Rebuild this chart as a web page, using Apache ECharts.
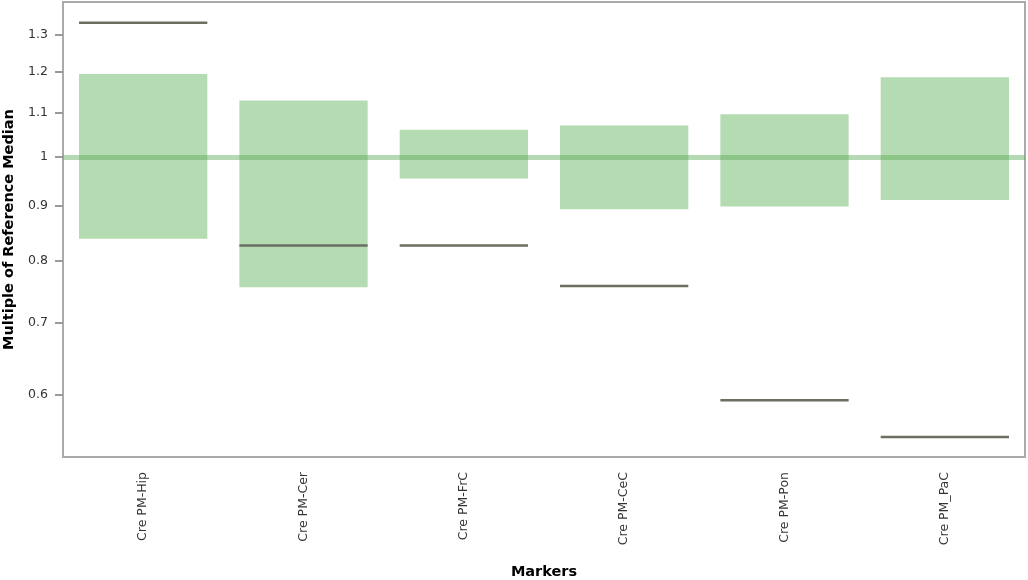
<!DOCTYPE html>
<html>
<head>
<meta charset="utf-8">
<script src="https://cdn.jsdelivr.net/npm/echarts@6/dist/echarts.min.js"></script>
<style>
  html, body { margin: 0; padding: 0; background: #fff; }
  #chart { width: 1028px; height: 580px; }
</style>
</head>
<body>
<div id="chart"></div>
<script>
// markers on the x axis
const markers = ['Cre PM-Hip', 'Cre PM-Cer', 'Cre PM-FrC', 'Cre PM-CeC', 'Cre PM-Pon', 'Cre PM_PaC'];
// reference range (green boxes), as multiples of the reference median
const rangeLow = [0.839, 0.756, 0.955, 0.894, 0.899, 0.912];
const rangeHigh = [1.195, 1.129, 1.060, 1.070, 1.096, 1.187];
// observed value (dark line) for each marker
const observed = [1.334, 0.827, 0.827, 0.758, 0.593, 0.548];
// y ticks on the log axis
const yTicks = [0.6, 0.7, 0.8, 0.9, 1, 1.1, 1.2, 1.3];
const yMin = 0.525;
const yMax = 1.395;

const chart = echarts.init(document.getElementById('chart'));

const rangeData = markers.map((m, i) => [i, rangeLow[i], rangeHigh[i]]);
const obsData = markers.map((m, i) => [i, observed[i]]);

// box drawn from low to high inside the category band
const renderRange = (params, api) => {
  const i = api.value(0);
  const lo = api.coord([i, api.value(1)]);
  const hi = api.coord([i, api.value(2)]);
  const w = api.size([1, 1])[0] * 0.8;
  return {
    type: 'rect',
    shape: { x: lo[0] - w / 2, y: hi[1], width: w, height: lo[1] - hi[1] },
    style: { fill: 'rgba(120, 190, 115, 0.55)' }
  };
};

// short horizontal line across the band
const renderObs = (params, api) => {
  const i = api.value(0);
  const p = api.coord([i, api.value(1)]);
  const w = api.size([1, 1])[0] * 0.8;
  return {
    type: 'line',
    shape: { x1: p[0] - w / 2, y1: p[1], x2: p[0] + w / 2, y2: p[1] },
    style: { stroke: '#6b6e60', lineWidth: 2.5 }
  };
};

const fontFamily = '"DejaVu Sans", Verdana, sans-serif';

const option = {
  animation: false,
  textStyle: { fontFamily: fontFamily },
  grid: {
    left: 63,
    right: 3,
    top: 2,
    bottom: 123,
    outerBoundsMode: 'none',
    containLabel: false,
    show: true,
    borderColor: '#aaaaaa',
    borderWidth: 2
  },
  xAxis: {
    type: 'category',
    data: markers,
    name: 'Markers',
    nameLocation: 'middle',
    nameGap: 108,
    nameTextStyle: { fontFamily: fontFamily, fontWeight: 'bold', fontSize: 14.5, color: '#000' },
    axisLine: { lineStyle: { color: '#aaaaaa', width: 2 } },
    axisTick: { length: 8, lineStyle: { color: '#aaaaaa', width: 2 } },
    axisLabel: {
      rotate: 90,
      margin: 15,
      fontSize: 12.5,
      color: '#333',
      fontFamily: fontFamily,
      interval: 0
    }
  },
  yAxis: {
    type: 'log',
    min: yMin,
    max: yMax,
    name: 'Multiple of Reference Median',
    nameLocation: 'middle',
    nameGap: 46,
    nameTextStyle: { fontFamily: fontFamily, fontWeight: 'bold', fontSize: 14.5, color: '#000' },
    axisLine: { show: true, lineStyle: { color: '#aaaaaa', width: 2 } },
    axisTick: { show: true, length: 8, customValues: yTicks, lineStyle: { color: '#999999', width: 2 } },
    axisLabel: {
      customValues: yTicks,
      margin: 15,
      fontSize: 12.5,
      color: '#333',
      fontFamily: fontFamily,
      formatter: v => String(+(+v).toFixed(2))
    },
    splitLine: { show: false }
  },
  series: [
    {
      name: 'Reference range',
      type: 'custom',
      renderItem: renderRange,
      data: rangeData,
      encode: { x: 0, y: [1, 2] },
      z: 2,
      markLine: {
        silent: true,
        symbol: 'none',
        label: { show: false },
        lineStyle: { type: 'solid', color: 'rgba(90, 170, 85, 0.45)', width: 5 },
        data: [{ yAxis: 1 }]
      }
    },
    {
      name: 'Observed',
      type: 'custom',
      renderItem: renderObs,
      data: obsData,
      encode: { x: 0, y: 1 },
      z: 3
    }
  ]
};

chart.setOption(option);
</script>
</body>
</html>
